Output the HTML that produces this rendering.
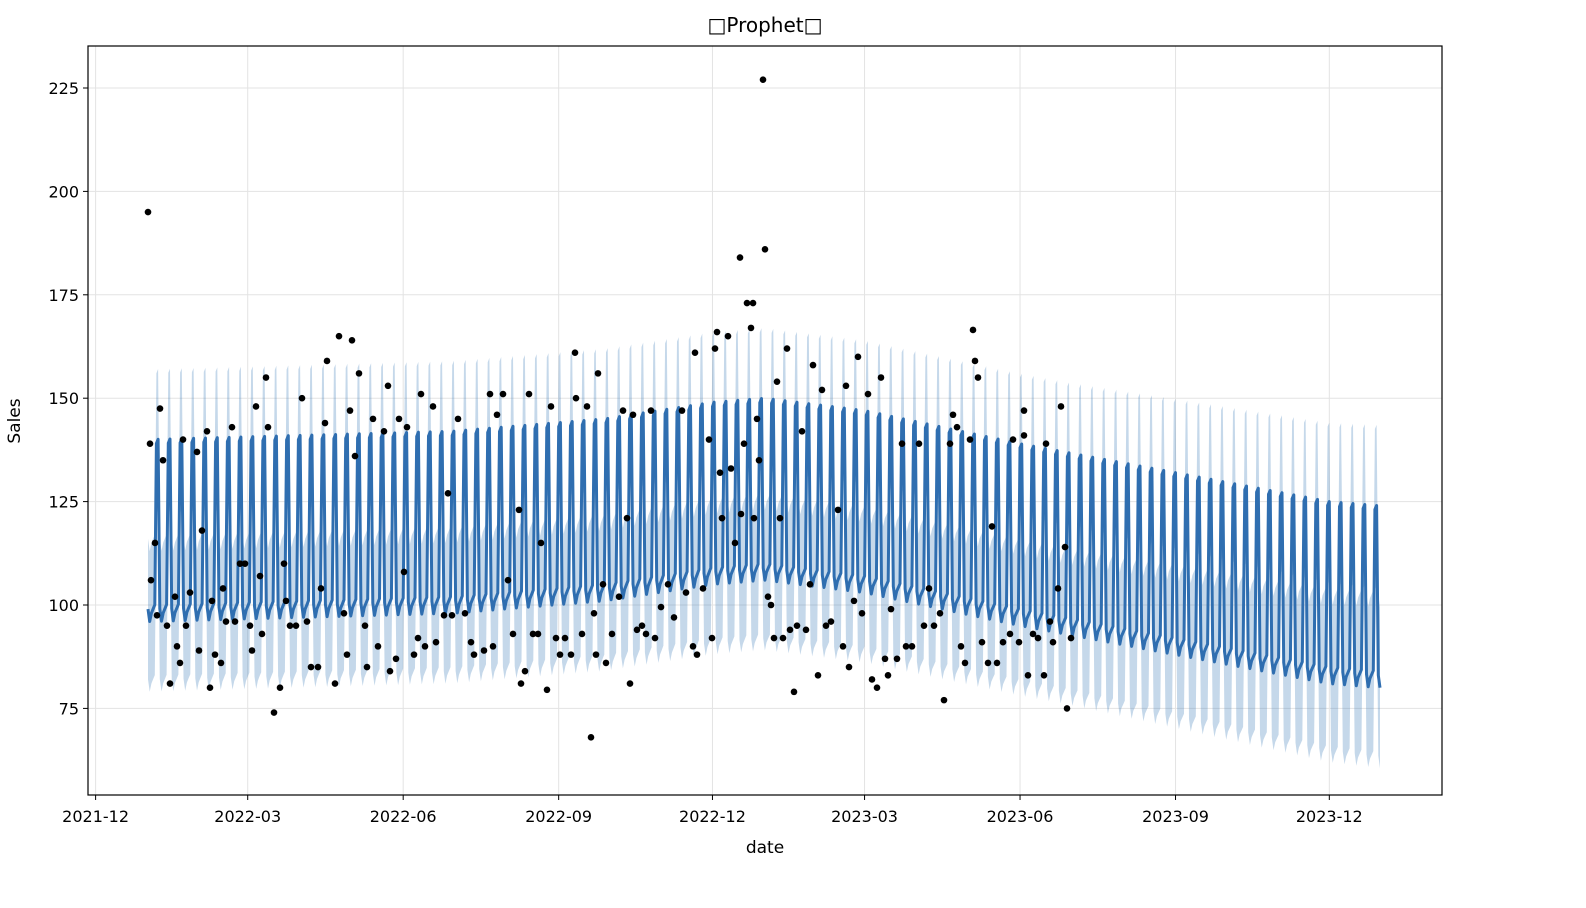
<!DOCTYPE html>
<html><head><meta charset="utf-8"><style>
body{margin:0;background:#fff;}
svg{display:block;font-family:"DejaVu Sans","Liberation Sans",sans-serif;}
</style></head><body>
<svg id="chart" width="1586" height="908">
<text x="765" y="32" font-size="20" text-anchor="middle">□Prophet□</text>
<text x="765" y="853" font-size="17" text-anchor="middle">date</text>
<text x="20" y="421" font-size="17" text-anchor="middle" transform="rotate(-90 20 421)">Sales</text>
<g id="grid"></g><g id="band"></g><g id="line"></g><g id="pts"></g><g id="axes"></g>
</svg>
<script>
// data
const yTicks=[75,100,125,150,175,200,225];
const xTickLabels=["2021-12","2022-03","2022-06","2022-09","2022-12","2023-03","2023-06","2023-09","2023-12"];
const xTickDays=[-31,59,151,243,334,424,516,608,699];
const trendDays=[0,90,180,270,334,365,424,516,608,699,729];
const trendVals=[99,100,101,104,108,109,106,98,91,84,83];
const weekly=[0,-3,-1,0,1,40,41];
const lastHistDay=545;
const totalDays=729;
const obsX=[148,150,151,155,157,160,163,167,170,175,177,180,183,186,190,197,199,202,207,210,212,215,221,223,226,232,235,240,245,250,252,256,260,262,266,268,274,280,284,286,290,296,302,307,311,318,321,325,327,335,339,344,347,350,352,355,359,365,367,373,378,384,388,390,396,399,404,407,414,418,421,425,433,436,444,448,452,458,465,471,474,484,490,493,497,503,508,513,519,521,525,529,533,538,541,547,551,556,560,565,571,575,576,582,587,591,594,596,598,603,606,612,619,623,627,630,633,637,642,646,651,655,661,668,674,682,686,693,695,697,703,709,712,715,717,720,722,728,731,735,740,741,744,747,751,753,754,757,759,763,765,768,771,774,777,780,783,787,790,794,797,802,806,810,813,818,822,826,831,838,843,846,849,854,858,862,868,872,877,881,885,888,891,897,902,906,912,919,924,929,934,940,944,950,953,957,961,965,970,973,975,978,982,988,992,997,1003,1010,1013,1019,1024,1024,1028,1033,1038,1044,1046,1050,1053,1058,1061,1065,1067,1071];
const obsVals=[195,139,106,115,97.5,147.5,135,95,81,102,90,86,140,95,103,137,89,118,142,80,101,88,86,104,96,143,96,110,110,95,89,148,107,93,155,143,74,80,110,101,95,95,150,96,85,85,104,144,159,81,165,98,88,147,164,136,156,95,85,145,90,142,153,84,87,145,108,143,88,92,151,90,148,91,97.5,127,97.5,145,98,91,88,89,151,90,146,151,106,93,123,81,84,151,93,93,115,79.5,148,92,88,92,88,161,150,93,148,68,98,88,156,105,86,93,102,147,121,81,146,94,95,93,147,92,99.5,105,97,147,103,90,161,88,104,140,92,162,166,132,121,165,133,115,184,122,139,173,167,173,121,145,135,227,186,102,100,92,154,121,92,162,94,79,95,142,94,105,158,83,152,95,96,123,90,153,85,101,160,98,151,82,80,155,87,83,99,87,139,90,90,139,95,104,95,98,77,139,146,143,90,86,140,166.5,159,155,91,86,119,86,91,93,140,91,147,141,83,93,92,83,139,96,91,104,148,114,75,92];

const NS='http://www.w3.org/2000/svg';
const L=88,R=1442,T=46,B=795;
function xDay(d){return 148+d*1.69;}
function yV(v){return 605-(v-100)*4.136;}
function trend(d){for(let i=0;i<trendDays.length-1;i++){if(d<=trendDays[i+1]){const t=(d-trendDays[i])/(trendDays[i+1]-trendDays[i]);return trendVals[i]+t*(trendVals[i+1]-trendVals[i]);}}return trendVals[trendVals.length-1];}
function mk(tag,attrs,parent){const e=document.createElementNS(NS,tag);for(const k in attrs)e.setAttribute(k,attrs[k]);parent.appendChild(e);return e;}
const grid=document.getElementById('grid'),axes=document.getElementById('axes');
yTicks.forEach(v=>{const y=yV(v);
 const g=mk('line',{x1:L,x2:R,y1:y,y2:y,stroke:'#e3e3e3','stroke-width':1},grid);
 
 mk('line',{x1:L-5,x2:L,y1:y,y2:y,stroke:'#000'},axes);
 const t=mk('text',{x:L-9,y:y+6,'font-size':16,'text-anchor':'end'},axes);t.textContent=v;
 });
xTickDays.forEach((d,i)=>{const x=xDay(d);
 const g=mk('line',{x1:x,x2:x,y1:T,y2:B,stroke:'#e3e3e3','stroke-width':1},grid);
 
 mk('line',{x1:x,x2:x,y1:B,y2:B+5,stroke:'#000'},axes);
 const t=mk('text',{x:x,y:B+27,'font-size':16,'text-anchor':'middle'},axes);t.textContent=xTickLabels[i];
 });
const frame=mk('rect',{x:L,y:T,width:R-L,height:B-T,fill:'none',stroke:'#000','stroke-width':1.2},axes);

// forecast
let up=[],lo=[],ln=[];
for(let d=0;d<=totalDays;d++){const yh=trend(d)+weekly[d%7];const w=d<=lastHistDay?17:17+2.5*(d-lastHistDay)/(totalDays-lastHistDay);
 const x=xDay(d).toFixed(1);ln.push(x+','+yV(yh).toFixed(1));up.push(x+','+yV(yh+w).toFixed(1));lo.unshift(x+','+yV(yh-w).toFixed(1));}
const band=mk('polygon',{points:up.concat(lo).join(' '),fill:'#2f74b5','fill-opacity':0.28,stroke:'none'},document.getElementById('band'));

const line=mk('polyline',{points:ln.join(' '),fill:'none',stroke:'#2f6eb0','stroke-width':3,'stroke-linejoin':'round'},document.getElementById('line'));

const pts=document.getElementById('pts');
obsVals.forEach((v,i)=>{const c=mk('circle',{cx:obsX[i],cy:yV(v),r:3.3,fill:'#000'},pts);
 
 });
</script>
</body></html>
